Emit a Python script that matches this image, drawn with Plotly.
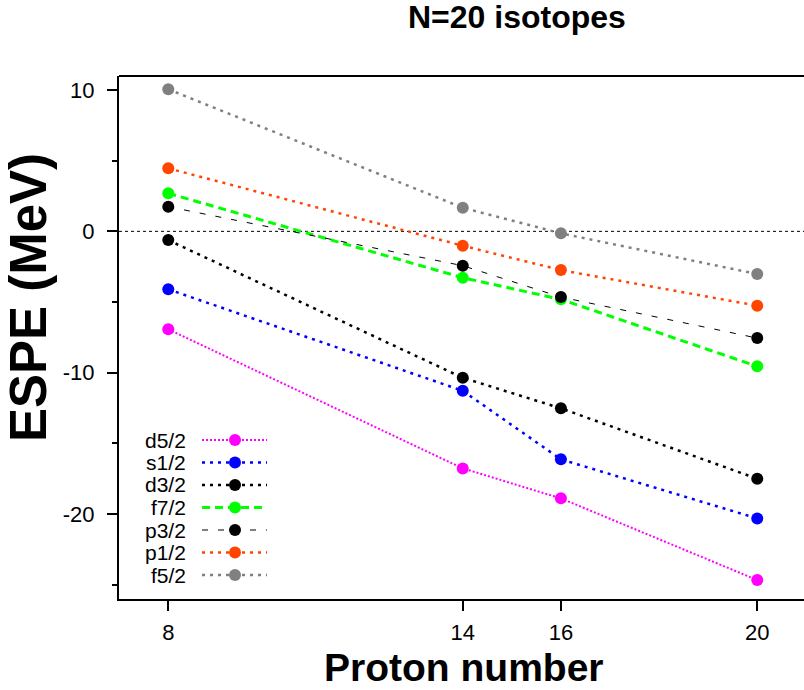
import plotly.graph_objects as go

# ---- data ----
proton = [8, 14, 16, 20]
labels = ["d5/2", "s1/2", "d3/2", "f7/2", "p3/2", "p1/2", "f5/2"]
d52 = [-6.93, -16.77, -18.89, -24.67]
s12 = [-4.10, -11.28, -16.13, -20.31]
d32 = [-0.62, -10.36, -12.52, -17.50]
f72 = [2.69, -3.28, -4.81, -9.55]
p32 = [1.74, -2.43, -4.65, -7.55]
p12 = [4.46, -1.02, -2.74, -5.26]
f52 = [10.05, 1.67, -0.14, -3.02]
series = [d52, s12, d32, f72, p32, p12, f52]
xticks = [8, 14, 16, 20]
yticks = [10, 0, -10, -20]

colors = ["#ff00ff", "#0000ff", "#000000", "#00ff00", "#000000", "#ff4500", "#808080"]
dashes = ["2px,2px", "3px,5px", "3px,5px", "8px,5px", "6px,10px", "3px,5px", "3px,5px"]
widths = [2, 2.5, 2.5, 3, 1, 2.5, 2.5]

W, H = 804, 690
L, R, T, B = 119, 804, 76, 599
FONT = "Liberation Sans, Arial, sans-serif"

def px(x):
    return (x - L) / (R - L)

def py(y):
    return (B - y) / (B - T)

fig = go.Figure()
for name, ys, c, d, w in zip(labels, series, colors, dashes, widths):
    fig.add_trace(go.Scatter(
        x=proton, y=ys, mode="lines+markers", name=name,
        line=dict(color=c, dash=d, width=w),
        marker=dict(color=c, size=12),
        showlegend=False,
    ))

shapes = []
# zero line
shapes.append(dict(type="line", xref="paper", yref="y", x0=0, x1=1, y0=0, y1=0,
                   line=dict(color="black", width=1, dash="3px,3px"), layer="below"))
# top frame line
shapes.append(dict(type="line", xref="paper", yref="paper", x0=0, x1=1, y0=1, y1=1,
                   line=dict(color="black", width=2)))

annotations = []
# custom legend
row0, step = 440, 22.5
for i, (name, c, d, w) in enumerate(zip(labels, colors, dashes, widths)):
    yy = row0 + i * step
    annotations.append(dict(text=name, xref="paper", yref="paper", x=px(188), y=py(yy),
                            xanchor="right", yanchor="middle", showarrow=False,
                            font=dict(size=21, color="black", family=FONT)))
    shapes.append(dict(type="line", xref="paper", yref="paper", x0=px(202), x1=px(267),
                       y0=py(yy), y1=py(yy), line=dict(color=c, dash=d, width=w)))
    shapes.append(dict(type="circle", xref="paper", yref="paper", xsizemode="pixel", ysizemode="pixel",
                       xanchor=px(235), yanchor=py(yy), x0=-6, x1=6, y0=-6, y1=6,
                       fillcolor=c, line=dict(color=c, width=0)))

annotations.append(dict(text="<b>N=20 isotopes</b>", xref="paper", yref="paper",
                        x=px(517), y=py(17), xanchor="center", yanchor="middle", showarrow=False,
                        font=dict(size=32, color="black", family=FONT)))
annotations.append(dict(text="<b>Proton number</b>", xref="paper", yref="paper",
                        x=px(464), y=py(667), xanchor="center", yanchor="middle", showarrow=False,
                        font=dict(size=39, color="black", family=FONT)))
annotations.append(dict(text="<b>ESPE (MeV)</b>", xref="paper", yref="paper", textangle=-90,
                        x=px(28), y=py(298), xanchor="center", yanchor="middle", showarrow=False,
                        font=dict(size=51, color="black", family=FONT)))

fig.update_layout(
    width=W, height=H,
    margin=dict(l=L, r=W - R, t=T, b=H - B, pad=0),
    paper_bgcolor="white", plot_bgcolor="white",
    font=dict(family=FONT, color="black", size=22),
    shapes=shapes, annotations=annotations,
    xaxis=dict(range=[6.996, 20.953], tickvals=xticks, ticktext=[str(v) for v in xticks],
               showgrid=False, zeroline=False, showline=True, linecolor="black", linewidth=2,
               ticks="outside", ticklen=10, tickwidth=1.5, tickcolor="black",
               ticklabelstandoff=3, tickfont=dict(size=22)),
    yaxis=dict(range=[-26.01, 10.99], tickvals=yticks, ticktext=[str(v) for v in yticks],
               showgrid=False, zeroline=False, showline=True, linecolor="black", linewidth=2,
               ticks="outside", ticklen=10, tickwidth=1.5, tickcolor="black",
               ticklabelstandoff=8, tickfont=dict(size=22),
               minor=dict(tickvals=[5, -5, -15, -25], ticks="outside", ticklen=5,
                          tickwidth=1.5, tickcolor="black", showgrid=False)),
)

fig.write_html("out.html")
